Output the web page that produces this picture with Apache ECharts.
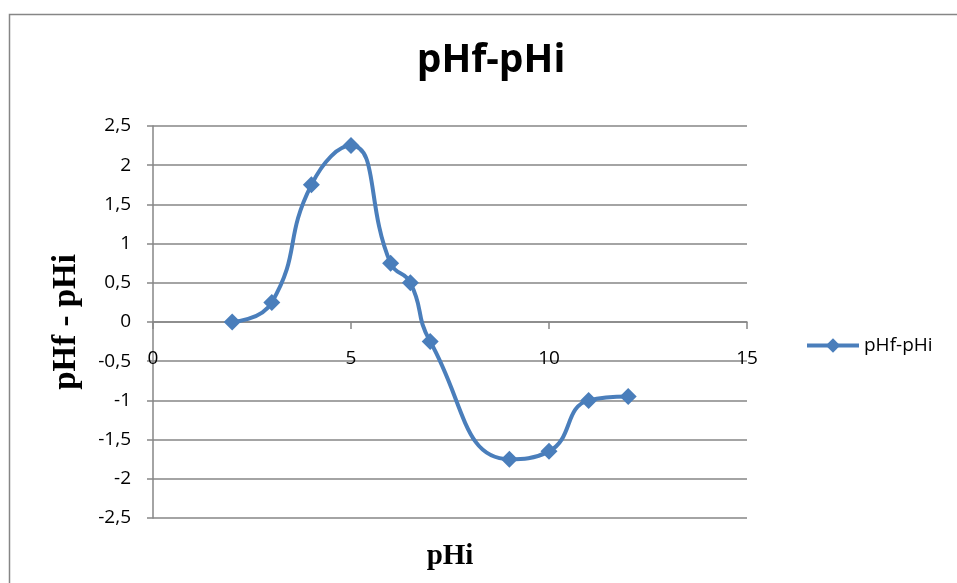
<!DOCTYPE html>
<html><head><meta charset="utf-8">
<script src="https://cdn.jsdelivr.net/npm/echarts@6/dist/echarts.min.js"></script>
<style>html,body{margin:0;padding:0;background:#fff}#c{width:957px;height:583px}</style>
</head><body><div id="c"></div>
<script>
var seriesName = 'pHf-pHi';
var xValues = [2, 3, 4, 5, 6, 6.5, 7, 9, 10, 11, 12];
var yValues = [0, 0.25, 1.75, 2.25, 0.75, 0.5, -0.25, -1.75, -1.65, -1, -0.95];
var xTicks = [0, 5, 10, 15];
var yTicks = [-2.5, -2, -1.5, -1, -0.5, 0, 0.5, 1, 1.5, 2, 2.5];

var data = xValues.map(function (x, i) { return [x, yValues[i]]; });
var grey = '#868686';
var blue = '#4a7ebb';
var chart = echarts.init(document.getElementById('c'), null, {renderer: 'canvas'});
chart.setOption({
  animation: false,
  backgroundColor: '#fff',
  graphic: [{
    type: 'rect', shape: {x: 9.5, y: 14.5, width: 980, height: 600},
    style: {fill: 'none', stroke: grey, lineWidth: 1.5}, silent: true
  }],
  title: {
    text: 'pHf-pHi', left: 486, top: 36, textAlign: 'center',
    textStyle: {fontFamily: 'Open Sans', fontWeight: 'bold', fontSize: 39, color: '#000'}
  },
  legend: {
    left: 800, top: 331, itemWidth: 52, itemHeight: 18, itemGap: 6,
    textStyle: {fontFamily: 'Open Sans', fontSize: 19, color: '#000'},
    data: [{name: seriesName, lineStyle: {width: 4, color: blue}}]
  },
  grid: {left: 153, top: 126, right: 210, bottom: 65, containLabel: false, outerBoundsMode: 'none'},
  xAxis: {
    type: 'value', min: xTicks[0], max: xTicks[xTicks.length - 1], interval: 5,
    axisLine: {show: true, onZero: true, lineStyle: {color: grey, width: 1.5}},
    axisTick: {show: true, length: 7, lineStyle: {color: grey, width: 1.5}},
    splitLine: {show: false},
    axisLabel: {margin: -169, fontFamily: 'Open Sans', fontSize: 19, color: '#000'},
    name: 'pHi', nameLocation: 'middle', nameGap: 24,
    nameTextStyle: {fontFamily: 'Liberation Serif', fontWeight: 'bold', fontSize: 29, color: '#000'}
  },
  yAxis: {
    type: 'value', min: yTicks[0], max: yTicks[yTicks.length - 1], interval: 0.5,
    axisLine: {show: true, onZero: false, lineStyle: {color: grey, width: 1.5}},
    axisTick: {show: true, length: 6, lineStyle: {color: grey, width: 1.5}},
    splitLine: {show: true, lineStyle: {color: grey, width: 1.5}},
    axisLabel: {margin: 22, fontFamily: 'Open Sans', fontSize: 19, color: '#000',
      formatter: function (v) { return String(v).replace('.', ','); }},
    name: 'pHf - pHi', nameLocation: 'middle', nameGap: 70, nameRotate: 90,
    nameTextStyle: {fontFamily: 'Liberation Serif', fontWeight: 'bold', fontSize: 33, color: '#000'}
  },
  series: [{
    name: seriesName, type: 'line', data: data, smooth: 0.5,
    symbol: 'diamond', symbolSize: 17,
    lineStyle: {color: blue, width: 4},
    itemStyle: {color: blue}
  }]
});
</script></body></html>
